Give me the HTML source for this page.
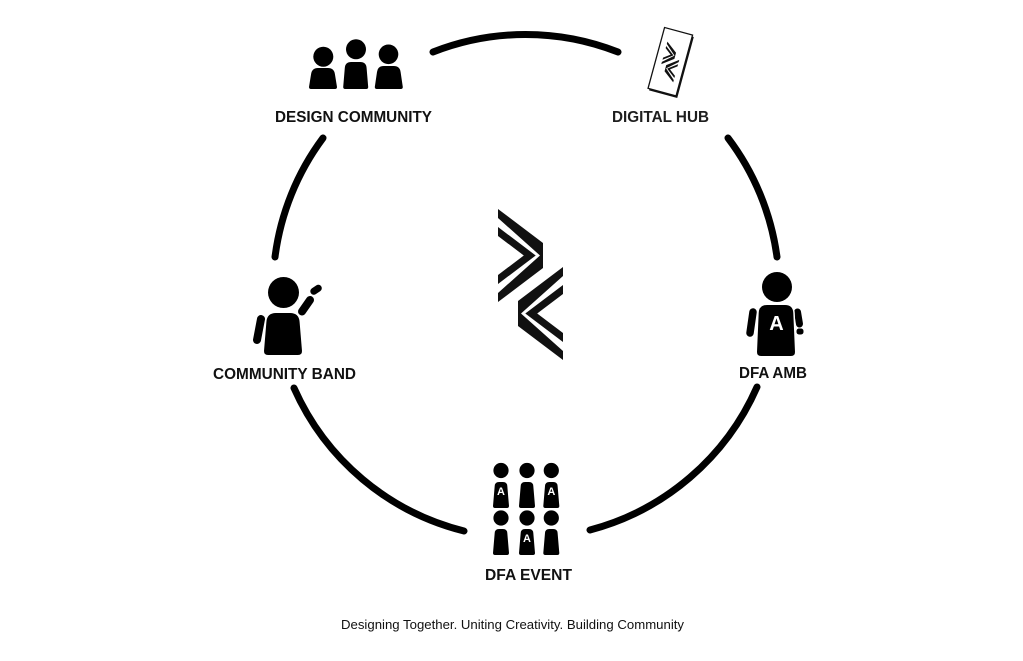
<!DOCTYPE html>
<html>
<head>
<meta charset="utf-8">
<style>
  html,body{margin:0;padding:0;background:#fff;}
  svg{display:block;}
  .lbl{font-family:"Liberation Sans",Arial,sans-serif;font-weight:bold;font-size:15.5px;fill:#111;}
  .cap{font-family:"Liberation Sans",Arial,sans-serif;font-size:12.5px;fill:#111;}
  .a{font-family:"Liberation Sans",Arial,sans-serif;font-weight:bold;fill:#fff;text-anchor:middle;}
</style>
</head>
<body>
<svg width="1023" height="661" viewBox="0 0 1023 661" xmlns="http://www.w3.org/2000/svg">
  <defs>
    <g id="half">
      <polygon points="0,0 45,34 45,59 0,93 0,84 42,46.5 0,9"/>
      <polygon points="0,18 37.7,46.5 0,75 0,66 25.8,46.5 0,27"/>
    </g>
    <g id="logo" fill="#111">
      <use href="#half" transform="translate(498,209)"/>
      <use href="#half" transform="translate(563,267) scale(-1,1)"/>
    </g>
    <path id="sb" d="M-2 0 H2 Q6 0 6.3 4 L8 24 Q8 26 6 26 H-6 Q-8 26 -8 24 L-6.3 4 Q-6 0 -2 0Z"/>
  </defs>

  <!-- ring arcs -->
  <g fill="none" stroke="#000" stroke-width="7" stroke-linecap="round">
    <path d="M433 52 A253 253 0 0 1 618 52"/>
    <path d="M728 138 A253 253 0 0 1 777 257"/>
    <path d="M757 387 A253 253 0 0 1 590 530"/>
    <path d="M464 531 A253 253 0 0 1 294 388"/>
    <path d="M275 257 A253 253 0 0 1 323 138"/>
  </g>

  <!-- central logo -->
  <use href="#logo"/>

  <!-- DESIGN COMMUNITY icon -->
  <g fill="#000">
    <circle cx="323.3" cy="56.7" r="10"/>
    <path d="M318 68 H328 Q334 68 334.9 74 L337 87 Q337 89 335 89 H311 Q309 89 309 87 L311.1 74 Q312 68 318 68Z"/>
    <circle cx="356" cy="49.3" r="10"/>
    <path d="M351.2 62 H360.2 Q366.2 62 366.6 68 L368.2 87 Q368.2 89 366.2 89 H345.2 Q343.2 89 343.2 87 L344.8 68 Q345.2 62 351.2 62Z"/>
    <circle cx="388.5" cy="54.3" r="9.8"/>
    <path d="M383.8 66 H393.8 Q399.8 66 400.6 72 L402.8 87 Q402.8 89 400.8 89 H376.8 Q374.8 89 374.8 87 L377 72 Q377.8 66 383.8 66Z"/>
  </g>
  <text class="lbl" x="275" y="122" textLength="157" lengthAdjust="spacingAndGlyphs">DESIGN COMMUNITY</text>

  <!-- DIGITAL HUB icon -->
  <g transform="translate(670.3,61.7) rotate(15.2)">
    <rect x="-14.5" y="-31.5" width="29" height="63" fill="#fff" stroke="#111" stroke-width="1.3"/>
    <path d="M15.3 -30 V32.3 H-13" fill="none" stroke="#111" stroke-width="1.8"/>
  </g>
  <use href="#logo" transform="translate(670.3,62) rotate(15.2) scale(0.25) translate(-530.5,-284.5)"/>
  <text class="lbl" x="612" y="122" textLength="97" lengthAdjust="spacingAndGlyphs" style="fill:#1e1e1e">DIGITAL HUB</text>

  <!-- COMMUNITY BAND icon -->
  <g stroke="#000" stroke-linecap="round" fill="none">
    <line x1="261" y1="319" x2="257" y2="340" stroke-width="8"/>
    <line x1="310" y1="300" x2="302" y2="311.5" stroke-width="8"/>
    <line x1="313.8" y1="291.3" x2="318.3" y2="288.2" stroke-width="7"/>
  </g>
  <circle cx="283.5" cy="292.5" r="15.5" fill="#000"/>
  <path d="M276 313 H290 Q299 313 299.6 322 L302 351 Q302 355 298 355 H268 Q264 355 264 351 L266.4 322 Q267 313 276 313Z" fill="#000" stroke="#fff" stroke-width="3" paint-order="stroke"/>
  <text class="lbl" x="213" y="379" textLength="143" lengthAdjust="spacingAndGlyphs">COMMUNITY BAND</text>

  <!-- DFA AMB icon -->
  <g stroke="#000" stroke-linecap="round" fill="none">
    <line x1="753" y1="312" x2="750" y2="333" stroke-width="7.5"/>
    <line x1="797.5" y1="312" x2="799.5" y2="324" stroke-width="7"/>
  </g>
  <rect x="796.5" y="328.5" width="7" height="6" rx="2.5" fill="#000"/>
  <circle cx="777" cy="287" r="15" fill="#000"/>
  <path d="M767 305 H785 Q793 305 793.3 313 L795 352 Q795 356 791 356 H761 Q757 356 757 352 L758.7 313 Q759 305 767 305Z" fill="#000" stroke="#fff" stroke-width="3" paint-order="stroke"/>
  <text class="a" x="776.5" y="330" style="font-size:20px">A</text>
  <text class="lbl" x="739" y="378" textLength="68" lengthAdjust="spacingAndGlyphs">DFA AMB</text>

  <!-- DFA EVENT icon -->
  <g fill="#000">
    <circle cx="501" cy="470.5" r="7.6"/>
    <circle cx="527" cy="470.5" r="7.6"/>
    <circle cx="551.3" cy="470.5" r="7.6"/>
    <use href="#sb" x="501" y="482"/>
    <use href="#sb" x="527" y="482"/>
    <use href="#sb" x="551.3" y="482"/>
    <circle cx="501" cy="518" r="7.6"/>
    <circle cx="527" cy="518" r="7.6"/>
    <circle cx="551.3" cy="518" r="7.6"/>
    <use href="#sb" x="501" y="529"/>
    <use href="#sb" x="527" y="529"/>
    <use href="#sb" x="551.3" y="529"/>
  </g>
  <text class="a" x="501" y="495" style="font-size:11px">A</text>
  <text class="a" x="551.3" y="495" style="font-size:11px">A</text>
  <text class="a" x="527" y="542" style="font-size:11px">A</text>
  <text class="lbl" x="485" y="580" textLength="87" lengthAdjust="spacingAndGlyphs">DFA EVENT</text>

  <!-- caption -->
  <text class="cap" x="341" y="629" textLength="343" lengthAdjust="spacingAndGlyphs">Designing Together. Uniting Creativity. Building Community</text>
</svg>
</body>
</html>
